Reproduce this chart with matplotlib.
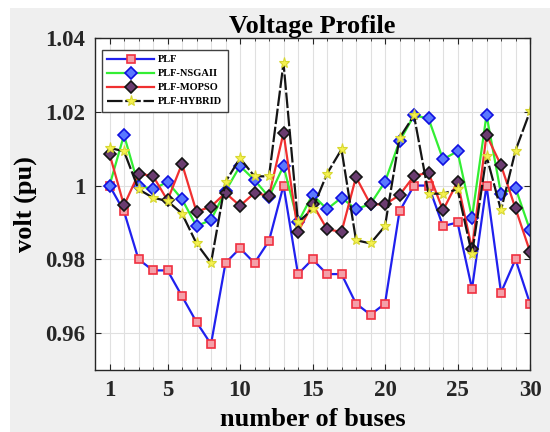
import numpy as np
import matplotlib
matplotlib.use('Agg')
import matplotlib.pyplot as plt
from matplotlib.patches import Rectangle

#Bus voltages
buses = np.arange(1, 31)
plf = [1.000, 0.993, 0.980, 0.977, 0.977, 0.970, 0.963, 0.957, 0.979, 0.983,
       0.979, 0.985, 1.000, 0.976, 0.980, 0.976, 0.976, 0.968, 0.965, 0.968,
       0.993, 1.000, 1.000, 0.989, 0.990, 0.972, 1.000, 0.971, 0.980, 0.968]
plfNsga = [1.000, 1.0137, 1.000, 0.999, 1.001, 0.9963, 0.989, 0.9907, 0.9985, 1.0053,
           1.0015, 0.9969, 1.0053, 0.990, 0.9975, 0.9936, 0.9967, 0.9936, 0.995, 1.001,
           1.012, 1.019, 1.0182, 1.0071, 1.0093, 0.9913, 1.0191, 0.9978, 0.9994, 0.9879]
plfMopso = [1.0086, 0.9946, 1.0032, 1.0026, 0.996, 1.0059, 0.9929, 0.9943, 0.998, 0.9945,
            0.998, 0.9972, 1.0143, 0.9874, 0.995, 0.9882, 0.9874, 1.0023, 0.9949, 0.9949,
            0.9974, 1.0026, 1.0035, 0.9933, 1.001, 0.9828, 1.0137, 1.0055, 0.9938, 0.9821]
plfHybrid = [1.0102, 1.0093, 0.999, 0.9967, 0.9958, 0.9924, 0.9843, 0.979, 1.001, 1.0074,
             1.0025, 1.0025, 1.0332, 0.990, 0.9936, 1.0032, 1.0098, 0.9852, 0.9843, 0.989,
             1.0129, 1.019, 0.9978, 0.9978, 0.999, 0.9814, 1.008, 0.9933, 1.0095, 1.0201]
seriesNames = ['PLF', 'PLF-NSGAII', 'PLF-MOPSO', 'PLF-HYBRID']
xTicks = [1, 5, 10, 15, 20, 25, 30]
yTicks = [0.96, 0.98, 1.0, 1.02, 1.04]
yTickLabels = ['0.96', '0.98', '1', '1.02', '1.04']

plt.rcParams['font.family'] = ['Liberation Serif', 'DejaVu Serif']
plt.rcParams['font.weight'] = 'bold'

fig = plt.figure(figsize=(5.5, 4.32), dpi=100, facecolor='white')
#gray figure background with thin white border on left and top
fig.patches.append(Rectangle((10/550, 0), 1, 1 - 8/432, transform=fig.transFigure,
                             facecolor='#efefef', edgecolor='none', zorder=-10))
ax = fig.add_axes([95/550, 62/432, 435/550, 332/432])
ax.set_facecolor('white')

lineWidth = 1.6
ax.plot(buses, plf, '-s', color='#2020ee', linewidth=lineWidth, markersize=6,
        markerfacecolor='#f4a0a8', markeredgecolor='#f03040', markeredgewidth=1.2, label=seriesNames[0])
ax.plot(buses, plfNsga, '-D', color='#33ee33', linewidth=lineWidth, markersize=6,
        markerfacecolor='#5a78ff', markeredgecolor='#1010e0', markeredgewidth=1.2, label=seriesNames[1])
ax.plot(buses, plfMopso, '-D', color='#f03030', linewidth=lineWidth, markersize=6,
        markerfacecolor='#6a3c70', markeredgecolor='#151515', markeredgewidth=1.2, label=seriesNames[2])
ax.plot(buses, plfHybrid, '--*', color='#151515', linewidth=lineWidth, markersize=8, dashes=(7, 1.2),
        markerfacecolor='#f4f050', markeredgecolor='#d8d830', markeredgewidth=0.8, label=seriesNames[3])

ax.set_xlim(0, 30)
ax.set_ylim(0.95, 1.04)
ax.set_xticks(xTicks)
ax.set_xticks(np.arange(1, 31), minor=True)
ax.set_yticks(yTicks)
ax.set_yticklabels(yTickLabels)
ax.grid(True, which='major', color='#e0e0e0', linewidth=0.8)
ax.grid(True, which='minor', axis='x', color='#e0e0e0', linewidth=0.8)
ax.set_axisbelow(True)
ax.tick_params(axis='both', which='both', direction='in', top=True, right=True,
               labelsize=16.5, colors='#262626', pad=7)
ax.tick_params(axis='both', which='major', length=4)
ax.tick_params(axis='x', which='minor', length=2.5)
for spine in ax.spines.values():
    spine.set_color('#262626')
    spine.set_linewidth(1.0)

fontSize = 19
ax.set_xlabel('number of buses', fontsize=fontSize, fontweight='bold', labelpad=5)
ax.set_ylabel('volt (pu)', fontsize=fontSize, fontweight='bold', labelpad=6)
ax.set_title('Voltage Profile', fontsize=19, fontweight='bold', pad=2)

leg = ax.legend(loc='upper left', bbox_to_anchor=(0.016, 0.964), borderaxespad=0,
                fontsize=7.5, handlelength=4.5, handletextpad=0.4, labelspacing=0.45,
                fancybox=False, framealpha=1, edgecolor='#404040', borderpad=0.5)
leg.get_frame().set_linewidth(1.0)

plt.savefig('out.png', dpi=100, facecolor=fig.get_facecolor())
